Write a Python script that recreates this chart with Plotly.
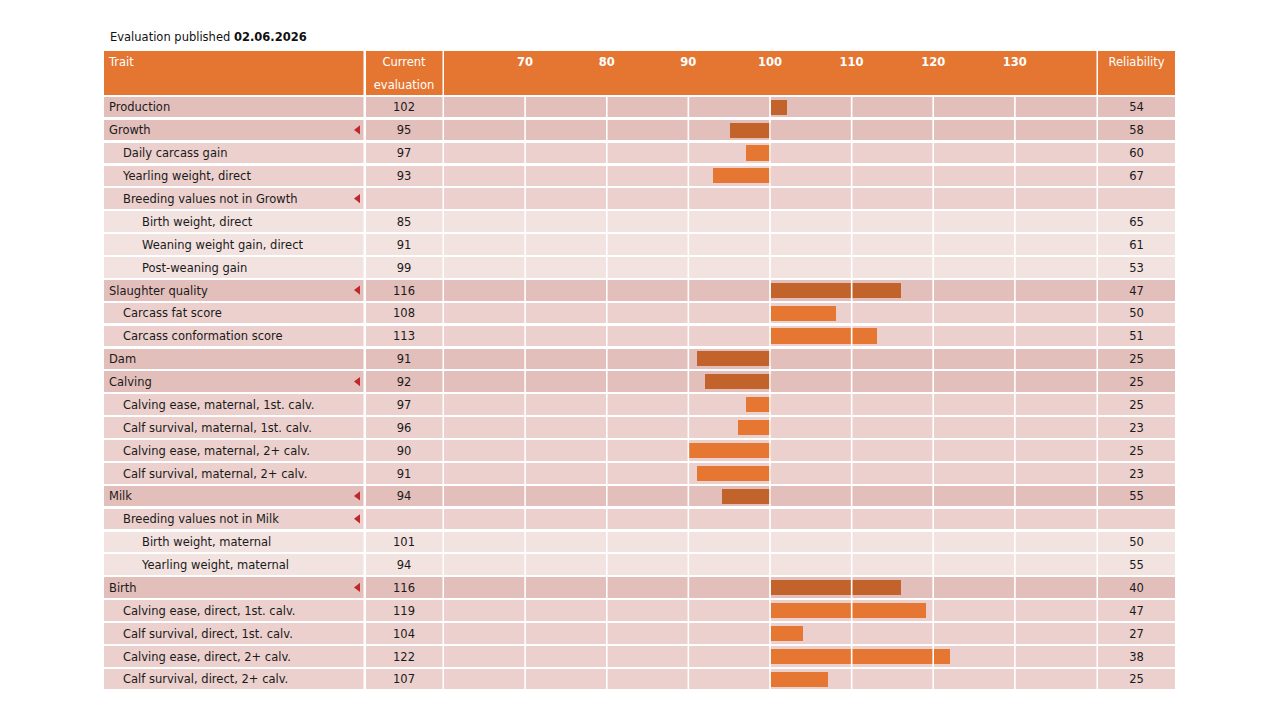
import plotly.graph_objects as go

# ---------------- data ----------------
traits = [
    "Production", "Growth", "Daily carcass gain", "Yearling weight, direct",
    "Breeding values not in Growth", "Birth weight, direct", "Weaning weight gain, direct",
    "Post-weaning gain", "Slaughter quality", "Carcass fat score", "Carcass conformation score",
    "Dam", "Calving", "Calving ease, maternal, 1st. calv.", "Calf survival, maternal, 1st. calv.",
    "Calving ease, maternal, 2+ calv.", "Calf survival, maternal, 2+ calv.", "Milk",
    "Breeding values not in Milk", "Birth weight, maternal", "Yearling weight, maternal",
    "Birth", "Calving ease, direct, 1st. calv.", "Calf survival, direct, 1st. calv.",
    "Calving ease, direct, 2+ calv.", "Calf survival, direct, 2+ calv.",
]
levels = [0, 0, 1, 1, 1, 2, 2, 2, 0, 1, 1, 0, 0, 1, 1, 1, 1, 0, 1, 2, 2, 0, 1, 1, 1, 1]
current = [102, 95, 97, 93, None, 85, 91, 99, 116, 108, 113, 91, 92, 97, 96, 90, 91, 94,
           None, 101, 94, 116, 119, 104, 122, 107]
reliability = [54, 58, 60, 67, None, 65, 61, 53, 47, 50, 51, 25, 25, 25, 23, 25, 23, 55,
               None, 50, 55, 40, 47, 27, 38, 25]
expandable = [False, True, False, False, True, False, False, False, True, False, False,
              False, True, False, False, False, False, True, True, False, False, True,
              False, False, False, False]
tick_values = [70, 80, 90, 100, 110, 120, 130]
axis_min, axis_max, base_value = 60, 140, 100
published = "02.06.2026"

# ---------------- style ----------------
FONT = "DejaVu Sans"
FS = 11.5
TXT = "#1a1a1a"
HEAD = "#e57632"
ROW_BG = {0: "#e3bfbc", 1: "#ebd0cd", 2: "#f2e2e0"}
BAR_COL = {0: "#c1632a", 1: "#e57732"}
TRI = "#c0272d"
INDENT = {0: 5, 1: 19, 2: 38}
ROW_W = 0.9
HEAD_W = 1.9
TEXT_NUDGE = 0.07  # rows, to centre text vertically

W, H = 1280, 720
OFF = 8  # page body margin


def px(a, b):
    return [(a - OFF) / W, (b - OFF) / W]


def py(top, bottom):
    return [(H - (bottom - OFF)) / H, (H - (top - OFF)) / H]


n = len(traits)
rows = list(range(n))
trows = [r + TEXT_NUDGE for r in rows]
ydom = py(49.8, 690.4)

fig = go.Figure()

col_axes = [("x", [0, 259.5]), ("x2", [0, 1]), ("x3", [axis_min, axis_max]), ("x4", [0, 1])]

# backgrounds (header + rows) for each column
for ax, rng in col_axes:
    fig.add_trace(go.Bar(
        x=[rng[1] - rng[0]], base=[rng[0]], y=[-1.5], width=[HEAD_W], orientation="h",
        marker=dict(color=HEAD, line=dict(width=0)), xaxis=ax, yaxis="y", hoverinfo="skip"))
    fig.add_trace(go.Bar(
        x=[rng[1] - rng[0]] * n, base=[rng[0]] * n, y=rows, width=[ROW_W] * n, orientation="h",
        marker=dict(color=[ROW_BG[l] for l in levels], line=dict(width=0)),
        xaxis=ax, yaxis="y", hoverinfo="skip"))

# gridlines (below bars)
gx, gy = [], []
for t in tick_values:
    gx += [t, t, None]
    gy += [-0.5, n - 0.5, None]
fig.add_trace(go.Scatter(x=gx, y=gy, mode="lines", line=dict(color="white", width=1.5),
                         xaxis="x3", yaxis="y", hoverinfo="skip"))

# value bars
bar_rows = [i for i in rows if current[i] is not None and levels[i] < 2]
fig.add_trace(go.Bar(
    x=[current[i] - base_value for i in bar_rows], base=[base_value] * len(bar_rows),
    y=bar_rows, width=[0.66] * len(bar_rows), orientation="h",
    marker=dict(color=[BAR_COL[levels[i]] for i in bar_rows], line=dict(width=0)),
    xaxis="x3", yaxis="y", hoverinfo="skip"))

# faint gridlines over bars
fig.add_trace(go.Scatter(x=gx, y=gy, mode="lines", line=dict(color="rgba(255,255,255,0.4)", width=1.5),
                         xaxis="x3", yaxis="y", hoverinfo="skip"))

# trait names
fig.add_trace(go.Scatter(
    x=[INDENT[l] for l in levels], y=trows, mode="text", text=traits, textposition="middle right",
    textfont=dict(family=FONT, size=FS, color=TXT), xaxis="x", yaxis="y", hoverinfo="skip"))

# expand triangles
tri_rows = [i for i in rows if expandable[i]]
fig.add_trace(go.Scatter(
    x=[254] * len(tri_rows), y=tri_rows, mode="markers",
    marker=dict(symbol="triangle-left", size=8, color=TRI, line=dict(width=0)),
    xaxis="x", yaxis="y", hoverinfo="skip"))

# current evaluation values
fig.add_trace(go.Scatter(
    x=[0.5] * n, y=trows, mode="text", text=["" if v is None else str(v) for v in current],
    textposition="middle center", textfont=dict(family=FONT, size=FS, color=TXT),
    xaxis="x2", yaxis="y", hoverinfo="skip"))

# reliability values
fig.add_trace(go.Scatter(
    x=[0.5] * n, y=trows, mode="text", text=["" if v is None else str(v) for v in reliability],
    textposition="middle center", textfont=dict(family=FONT, size=FS, color=TXT),
    xaxis="x4", yaxis="y", hoverinfo="skip"))

# header texts
hfont = dict(family=FONT, size=FS, color="white")
h1, h2 = -1.97 + TEXT_NUDGE, -1.0 + TEXT_NUDGE
fig.add_trace(go.Scatter(x=[5], y=[h1], mode="text", text=["Trait"], textposition="middle right",
                         textfont=hfont, xaxis="x", yaxis="y", hoverinfo="skip"))
fig.add_trace(go.Scatter(x=[0.5, 0.5], y=[h1, h2], mode="text",
                         text=["Current", "evaluation"], textposition="middle center",
                         textfont=hfont, xaxis="x2", yaxis="y", hoverinfo="skip"))
fig.add_trace(go.Scatter(x=[0.5], y=[h1], mode="text", text=["Reliability"],
                         textposition="middle center", textfont=hfont, xaxis="x4", yaxis="y",
                         hoverinfo="skip"))
fig.add_trace(go.Scatter(x=tick_values, y=[h1] * len(tick_values), mode="text",
                         text=[f"<b>{t}</b>" for t in tick_values], textposition="middle center",
                         textfont=hfont, xaxis="x3", yaxis="y", hoverinfo="skip"))

hidden = dict(showgrid=False, zeroline=False, showticklabels=False, showline=False, ticks="",
              fixedrange=True)
fig.update_layout(
    width=W, height=H, margin=dict(l=0, r=0, t=0, b=0),
    paper_bgcolor="white", plot_bgcolor="white", showlegend=False, barmode="overlay",
    bargap=0, hovermode=False,
    xaxis=dict(domain=px(104, 363.5), range=col_axes[0][1], anchor="y", **hidden),
    xaxis2=dict(domain=px(365.5, 442.5), range=col_axes[1][1], anchor="y", **hidden),
    xaxis3=dict(domain=px(443.5, 1096.5), range=col_axes[2][1], anchor="y", **hidden),
    xaxis4=dict(domain=px(1098, 1175), range=col_axes[3][1], anchor="y", **hidden),
    yaxis=dict(domain=ydom, range=[n - 0.5, -2.5], **hidden),
    annotations=[dict(
        x=(108 - OFF) / W, y=(H - (37 - OFF)) / H, xref="paper", yref="paper",
        xanchor="left", yanchor="middle",
        text=f"Evaluation published <b>{published}</b>", showarrow=False,
        font=dict(family=FONT, size=FS, color="#111111"))],
)

fig.write_html("out.html")
